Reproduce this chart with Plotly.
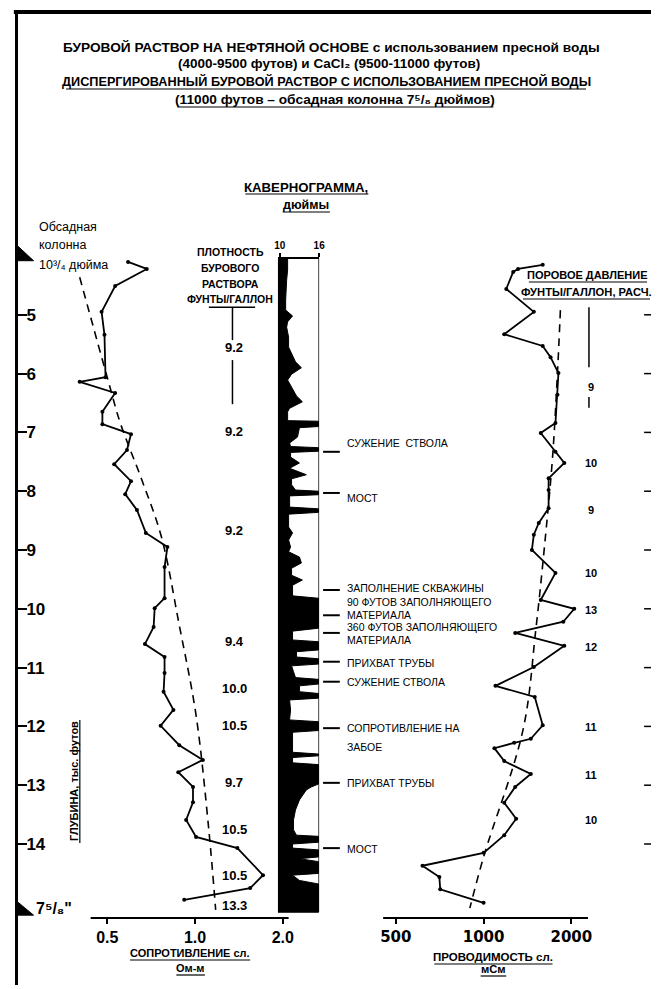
import plotly.graph_objects as go

W, H = 657, 989
SANS = "Liberation Sans, Arial, DejaVu Sans, sans-serif"
WIDE = "DejaVu Sans, Verdana, sans-serif"

# ---------------- data ----------------
depth_ticks = [5, 6, 7, 8, 9, 10, 11, 12, 13, 14]          # thousand ft

# shale resistivity, ohm-m
res_depth = [4.10, 4.22, 4.51, 4.95, 5.34, 6.06, 6.14, 6.33, 6.65, 6.86,
             7.03, 7.30, 7.54, 7.83, 8.05, 8.32, 8.71, 8.95, 9.29, 9.82,
             9.99, 10.31, 10.60, 10.82, 11.09, 11.41, 11.72, 11.99, 12.32, 12.57,
             12.78, 13.03, 13.29, 13.59, 13.88, 14.07, 14.53, 14.75, 14.95]
res_ohmm = [0.589, 0.683, 0.532, 0.478, 0.489, 0.493, 0.402, 0.532, 0.481, 0.481,
            0.603, 0.584, 0.528, 0.603, 0.576, 0.632, 0.678, 0.804, 0.786, 0.786,
            0.727, 0.721, 0.673, 0.786, 0.786, 0.780, 0.843, 0.762, 0.883, 1.064,
            0.876, 0.984, 0.984, 0.932, 1.008, 1.397, 1.711, 1.546, 0.918]
res_trend_depth = [4.36, 6.19, 6.84, 7.81, 8.78, 10.28, 11.81, 13.76, 15.12]
res_trend_ohmm = [0.402, 0.508, 0.554, 0.657, 0.767, 0.883, 1.008, 1.115, 1.177]

# shale conductivity, mS
cond_depth = [4.15, 4.22, 4.27, 4.56, 4.95, 5.33, 5.53, 5.72, 5.99, 6.36,
              6.84, 7.01, 7.33, 7.52, 7.78, 7.98, 8.29, 8.54, 8.74, 9.00,
              9.39, 9.85, 10.00, 10.22, 10.41, 10.63, 10.99, 11.31, 11.50, 11.98,
              12.21, 12.28, 12.37, 12.59, 12.81, 13.03, 13.30, 13.57, 13.85, 14.15,
              14.37, 14.56, 14.77, 15.00]
cond_msm = [1595, 1313, 1263, 1196, 1487, 1177, 1595, 1697, 1806, 1792,
            1764, 1570, 1764, 1892, 1671, 1671, 1671, 1546, 1487, 1464,
            1764, 1570, 2046, 1877, 1283, 1892, 1487, 1098, 1498, 1595,
            1452, 1273, 1089, 1177, 1452, 1283, 1177, 1293, 1177, 1000,
            617, 705, 710, 1000]
cond_trend_depth = [4.92, 5.99, 7.42, 8.74, 10.36, 12.06, 14.22, 15.09]
cond_trend_msm = [1834, 1792, 1724, 1632, 1510, 1365, 1000, 897]

# caliper, inches
cal_depth = [4.03, 4.24, 4.41, 4.75, 4.92, 5.02, 5.12, 5.21, 5.38, 5.55,
             5.65, 5.80, 5.90, 6.01, 6.11, 6.24, 6.38, 6.48, 6.59, 6.65,
             6.80, 6.81, 6.90, 6.92, 7.08, 7.18, 7.24, 7.26, 7.32, 7.34,
             7.42, 7.52, 7.61, 7.72, 7.79, 7.89, 7.98, 8.00, 8.06, 8.08,
             8.27, 8.30, 8.36, 8.39, 8.61, 8.71, 8.83, 8.95, 9.03, 9.12,
             9.22, 9.31, 9.43, 9.51, 9.60, 9.78, 9.82, 10.33, 10.38, 10.53,
             10.56, 10.70, 10.73, 10.82, 10.85, 10.94, 10.97, 11.07, 11.17, 11.20,
             11.28, 11.31, 11.41, 11.44, 11.52, 11.55, 11.72, 11.89, 11.92, 12.07,
             12.10, 12.44, 12.47, 12.50, 12.53, 12.62, 12.65, 12.98, 13.03, 13.08,
             13.25, 13.42, 13.59, 13.76, 13.85, 13.87, 13.97, 14.00, 14.07, 14.10,
             14.22, 14.25, 14.30, 14.50, 14.53, 14.62, 14.68, 15.16]
cal_in = [11.2, 11.2, 11.05, 10.9, 10.9, 11.95, 11.2, 11.05, 11.35, 11.35,
          11.8, 12.4, 13.3, 11.8, 11.2, 11.8, 12.55, 13.45, 11.5, 11.2,
          11.2, 15.9, 15.9, 13.0, 12.7, 11.5, 11.65, 15.9, 15.9, 11.65,
          11.65, 13.0, 11.5, 14.05, 11.8, 11.8, 12.4, 15.9, 15.9, 11.5,
          11.5, 15.9, 15.9, 11.35, 11.35, 11.95, 11.35, 11.65, 11.35, 13.0,
          13.3, 11.8, 11.8, 13.45, 11.95, 11.95, 15.9, 15.9, 11.95, 11.95,
          15.9, 15.9, 12.55, 12.55, 15.9, 15.9, 11.8, 12.1, 12.4, 15.9,
          15.9, 13.0, 13.0, 15.9, 15.9, 11.5, 11.65, 11.5, 15.9, 15.9,
          11.95, 11.95, 15.9, 15.9, 11.95, 11.95, 15.9, 15.9, 14.8, 14.05,
          13.0, 12.4, 12.1, 12.1, 12.55, 15.9, 15.9, 11.95, 11.95, 15.9,
          15.9, 13.0, 15.9, 15.9, 11.95, 13.0, 15.9, 15.9]

# mud weight, ppg
mud_depth = [5.56, 6.99, 8.66, 10.56, 11.35, 11.98, 12.95, 13.76, 14.53, 15.04]
mud_weight = ["9.2", "9.2", "9.2", "9.4", "10.0", "10.5", "9.7", "10.5", "10.5", "13.3"]

# calculated pore pressure, ppg
pore_depth = [6.23, 7.52, 8.32, 9.39, 10.02, 10.65, 12.01, 12.83, 13.59]
pore_ppg = ["9", "10", "9", "10", "13", "12", "11", "11", "10"]

# hole events
event_dash_depth = [7.33, 8.03, 9.68, 10.11, 10.41, 10.90, 11.24, 12.03, 12.96, 14.07]
event_lines = ["СУЖЕНИЕ  СТВОЛА", "МОСТ", "ЗАПОЛНЕНИЕ СКВАЖИНЫ", "90 ФУТОВ ЗАПОЛНЯЮЩЕГО",
               "МАТЕРИАЛА", "360 ФУТОВ ЗАПОЛНЯЮЩЕГО", "МАТЕРИАЛА", "ПРИХВАТ ТРУБЫ",
               "СУЖЕНИЕ СТВОЛА", "СОПРОТИВЛЕНИЕ НА", "ЗАБОЕ", "ПРИХВАТ ТРУБЫ", "МОСТ"]
event_line_depth = [7.18, 8.12, 9.65, 9.88, 10.11, 10.31, 10.53, 10.92, 11.24,
                    12.03, 12.35, 12.96, 14.09]

# casing shoes: (top of marker, shoe depth)
casing_shoe = [(3.80, 4.08), (14.96, 15.21)]

# ---------------- helpers ----------------
def fx(p):
    return p / W


def fy(p):
    return 1 - p / H


annotations = []
shapes = []


def label(text, x, y, yref="paper", size=12, family=SANS, xanchor="center",
          yanchor="middle", angle=0):
    annotations.append(dict(
        text=text, x=fx(x), xref="paper",
        y=(fy(y) if yref == "paper" else y), yref=yref,
        showarrow=False, xanchor=xanchor, yanchor=yanchor, textangle=angle,
        borderpad=0, borderwidth=0,
        font=dict(family=family, size=size, color="black"),
    ))


def seg(x0, x1, y0, y1, xref="paper", yref="y", width=1.5):
    shapes.append(dict(type="line", xref=xref, yref=yref, x0=x0, x1=x1,
                       y0=y0, y1=y1, line=dict(color="black", width=width)))


def underline(x0, x1, y, width=1.2):
    # pixel-positioned rule under a heading
    shapes.append(dict(type="line", xref="paper", yref="paper", x0=fx(x0), x1=fx(x1),
                       y0=fy(y), y1=fy(y), line=dict(color="black", width=width)))


# ---------------- traces ----------------
fig = go.Figure()

CAL_BASE = 9.7
cal_x = [CAL_BASE] + cal_in + [CAL_BASE]
cal_y = [cal_depth[0]] + cal_depth + [cal_depth[-1]]
fig.add_trace(go.Scatter(x=cal_x, y=cal_y, xaxis="x2", yaxis="y", mode="lines",
                         fill="toself", fillcolor="black",
                         line=dict(color="black", width=1), hoverinfo="skip"))

fig.add_trace(go.Scatter(x=res_trend_ohmm, y=res_trend_depth, xaxis="x", yaxis="y",
                         mode="lines", line=dict(color="black", width=1.6, dash="8px,6px"),
                         line_shape="spline"))
fig.add_trace(go.Scatter(x=res_ohmm, y=res_depth, xaxis="x", yaxis="y",
                         mode="lines+markers", line=dict(color="black", width=1.8),
                         marker=dict(size=4, color="black")))

fig.add_trace(go.Scatter(x=cond_trend_msm, y=cond_trend_depth, xaxis="x3", yaxis="y",
                         mode="lines", line=dict(color="black", width=1.6, dash="8px,6px"),
                         line_shape="spline"))
fig.add_trace(go.Scatter(x=cond_msm, y=cond_depth, xaxis="x3", yaxis="y",
                         mode="lines+markers", line=dict(color="black", width=1.8),
                         marker=dict(size=4, color="black")))

# ---------------- shapes ----------------
# outer frame (top edge; the depth axis is the left edge)
shapes.append(dict(type="rect", xref="paper", yref="paper", x0=fx(10), x1=1,
                   y0=fy(14), y1=fy(10), fillcolor="black", line=dict(width=0),
                   layer="above"))

# bottom axis lines of the two log panels
shapes.append(dict(type="line", xref="paper", yref="paper", x0=fx(88), x1=fx(289),
                   y0=fy(918), y1=fy(918), line=dict(color="black", width=2)))
shapes.append(dict(type="line", xref="paper", yref="paper", x0=fx(385), x1=fx(593),
                   y0=fy(918), y1=fy(918), line=dict(color="black", width=2)))

# casing shoe triangles on the depth axis
for top, shoe in casing_shoe:
    shapes.append(dict(type="path", xref="paper", yref="y",
                       path=f"M {fx(12)},{top} L {fx(12)},{shoe} L {fx(30)},{shoe} Z",
                       fillcolor="black", line=dict(color="black", width=1)))

# caliper right border
seg(16, 16, 4.03, 15.16, xref="x2", width=1.5)

# mud weight bracket and connector
seg(fx(208), fx(255), 4.87, 4.87, width=1.5)
seg(fx(232), fx(232), 4.87, 5.43, width=1.5)
seg(fx(232), fx(232), 5.77, 6.52, width=1.5)

# pore pressure connector
seg(fx(594), fx(594), 4.87, 5.89, width=1.5)
seg(fx(594), fx(594), 6.40, 6.58, width=1.5)

# right-hand depth ticks
for d in depth_ticks:
    seg(fx(650), 1, d, d, width=1.5)

# hole-event pointers
for d in event_dash_depth:
    seg(fx(324), fx(341), d, d, width=2)

# ---------------- text ----------------
label("<b>БУРОВОЙ РАСТВОР НА НЕФТЯНОЙ ОСНОВЕ с использованием пресной воды</b>",
      333, 47, size=13.7)
label("<b>(4000-9500 футов) и CaCl₂ (9500-11000 футов)</b>", 330, 64, size=13.5)
label("<b>ДИСПЕРГИРОВАННЫЙ БУРОВОЙ РАСТВОР С ИСПОЛЬЗОВАНИЕМ ПРЕСНОЙ ВОДЫ</b>",
      327, 82, size=12.7)
underline(63, 591, 89)
label("<b>(11000 футов – обсадная колонна 7⁵/₈ дюймов)</b>", 336, 100, size=13.7)
underline(176, 497, 107)

label("<b>КАВЕРНОГРАММА,</b>", 307, 187, size=13.2)
underline(245, 370, 194)
label("<b>дюймы</b>", 307, 205, size=12.5)
underline(283, 331, 212)

for txt, yy in zip(["ПЛОТНОСТЬ", "БУРОВОГО", "РАСТВОРА", "ФУНТЫ/ГАЛЛОН"], [252, 268, 284, 299]):
    label("<b>" + txt + "</b>", 230, yy, size=10.5)

label("<b>ПОРОВОЕ ДАВЛЕНИЕ</b>", 593, 275, size=11)
underline(533, 653, 282)
label("<b>ФУНТЫ/ГАЛЛОН, РАСЧ.</b>", 592, 292, size=11.2)
underline(527, 656, 299)

label("Обсадная", 36, 227, size=12.5, xanchor="left")
label("колонна", 36, 245, size=12.5, xanchor="left")
label("10³/₄ дюйма", 36, 265, size=12.5, xanchor="left")

label("<b>7⁵/₈\"</b>", 32, 908, size=16, xanchor="left")

label("<b>ГЛУБИНА, тыс. футов</b>", 71, 781, size=11, angle=-90)
shapes.append(dict(type="line", xref="paper", yref="paper", x0=fx(77), x1=fx(77),
                   y0=fy(720), y1=fy(843), line=dict(color="black", width=1.2)))

label("<b>СОПРОТИВЛЕНИЕ сл.</b>", 189, 953, size=11)
underline(128, 250, 960)
label("<b>Ом-м</b>", 189, 968, size=11)
underline(175, 204, 975)
label("<b>ПРОВОДИМОСТЬ сл.</b>", 497, 957, size=11.5)
underline(437, 557, 964)
label("<b>мСм</b>", 497, 969, size=11.2)
underline(484, 510, 976)

for d, t in zip(mud_depth, mud_weight):
    label("<b>" + t + "</b>", 234, d, yref="y", size=13)

for d, t in zip(pore_depth, pore_ppg):
    label("<b>" + t + "</b>", 596, d, yref="y", size=11)

for d, t in zip(event_line_depth, event_lines):
    label(t, 348, d, yref="y", size=10.5, xanchor="left")

# ---------------- axes ----------------
axis_pos = fy(918)
common_x = dict(showgrid=False, zeroline=False, showline=False,
                ticks="outside", ticklen=5, tickwidth=2, tickcolor="black",
                anchor="free")

fig.update_layout(
    width=W, height=H, margin=dict(l=0, r=0, t=0, b=0),
    paper_bgcolor="white", plot_bgcolor="rgba(0,0,0,0)", showlegend=False,
    # resistivity panel is wider than its axis line so the low readings stay visible
    xaxis=dict(common_x, type="log", domain=[fx(60), fx(289)], range=[-0.4527, 0.321],
               position=axis_pos, tickvals=[0.5, 1, 2],
               ticktext=["<b>0.5</b>", "<b>1.0</b>", "<b>2.0</b>"],
               tickfont=dict(family=SANS, size=16, color="black")),
    xaxis2=dict(common_x, domain=[fx(278), fx(320)], range=[CAL_BASE, 16], side="top",
                showline=True, linecolor="black", linewidth=2,
                position=fy(258), tickvals=[10, 16], ticktext=["<b>10</b>", "<b>16</b>"],
                ticklen=4, tickfont=dict(family=SANS, size=10, color="black")),
    xaxis3=dict(common_x, type="log", domain=[fx(385), fx(593)], range=[2.6554, 3.358],
                position=axis_pos, tickvals=[500, 1000, 2000],
                ticktext=["<b>500</b>", "<b>1000</b>", "<b>2000</b>"],
                tickfont=dict(family=WIDE, size=15, color="black")),
    yaxis=dict(domain=[fy(985), fy(12)], range=[16.398, -0.1497], anchor="free",
               position=fx(12), showgrid=False, zeroline=False, showline=True,
               linecolor="black", linewidth=3, ticks="inside", ticklen=9, tickwidth=2,
               tickcolor="black", tickvals=depth_ticks,
               ticktext=["<b>%d</b>" % v for v in depth_ticks],
               ticklabelposition="inside",
               tickfont=dict(family=SANS, size=17, color="black")),
    shapes=shapes,
    annotations=annotations,
)

fig.write_html("out.html")
